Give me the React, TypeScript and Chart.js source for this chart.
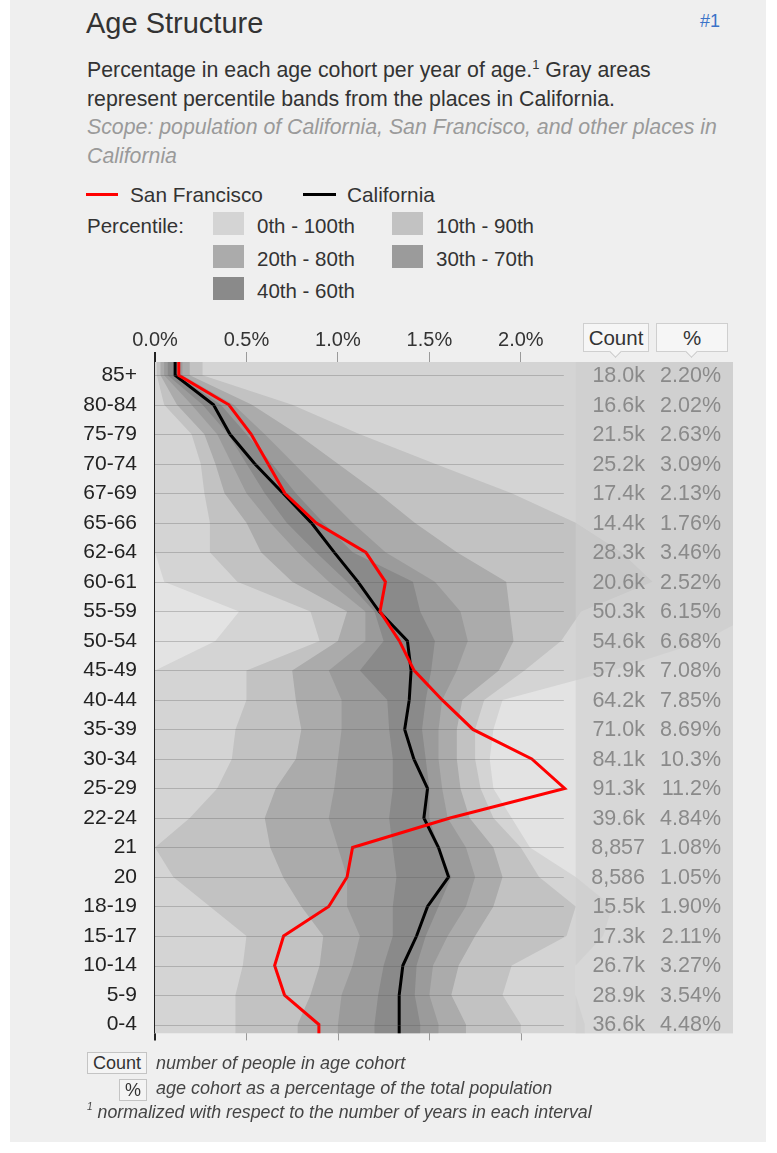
import React, { useEffect, useRef } from 'react';
import { Chart, registerables } from 'chart.js';

Chart.register(...registerables);

const ageGroups = ['85+', '80-84', '75-79', '70-74', '67-69', '65-66', '62-64', '60-61', '55-59', '50-54', '45-49', '40-44', '35-39', '30-34', '25-29', '22-24', '21', '20', '18-19', '15-17', '10-14', '5-9', '0-4'];
const countLabels = ['18.0k', '16.6k', '21.5k', '25.2k', '17.4k', '14.4k', '28.3k', '20.6k', '50.3k', '54.6k', '57.9k', '64.2k', '71.0k', '84.1k', '91.3k', '39.6k', '8,857', '8,586', '15.5k', '17.3k', '26.7k', '28.9k', '36.6k'];
const pctLabels = ['2.20%', '2.02%', '2.63%', '3.09%', '2.13%', '1.76%', '3.46%', '2.52%', '6.15%', '6.68%', '7.08%', '7.85%', '8.69%', '10.3%', '11.2%', '4.84%', '1.08%', '1.05%', '1.90%', '2.11%', '3.27%', '3.54%', '4.48%'];

const sanFrancisco = [0.13, 0.404, 0.526, 0.618, 0.71, 0.88, 1.153, 1.26, 1.23, 1.336, 1.416, 1.57, 1.738, 2.06, 2.24, 1.613, 1.08, 1.05, 0.95, 0.703, 0.654, 0.708, 0.896];
const california = [0.11, 0.32, 0.41, 0.545, 0.7, 0.855, 0.98, 1.11, 1.225, 1.38, 1.4, 1.39, 1.365, 1.415, 1.49, 1.47, 1.55, 1.605, 1.49, 1.43, 1.355, 1.335, 1.335];

const p0 = [0, 0, 0, 0, 0, 0, 0, 0.05, 0.46, 0.33, 0, 0, 0, 0, 0, 0, 0, 0, 0, 0, 0, 0, 0];
const p10 = [0.01, 0.05, 0.2, 0.25, 0.27, 0.3, 0.3, 0.45, 0.85, 0.9, 0.5, 0.5, 0.44, 0.42, 0.34, 0.19, 0, 0.1, 0.3, 0.5, 0.48, 0.44, 0.44];
const p20 = [0.03, 0.12, 0.27, 0.33, 0.38, 0.5, 0.58, 0.75, 1.05, 1.0, 0.75, 0.77, 0.8, 0.77, 0.66, 0.6, 0.63, 0.7, 0.8, 0.92, 0.9, 0.85, 0.78];
const p30 = [0.05, 0.2, 0.34, 0.42, 0.5, 0.63, 0.78, 0.95, 1.15, 1.15, 0.95, 1.02, 1.02, 1.0, 0.98, 0.95, 1.0, 1.05, 1.05, 1.12, 1.08, 1.02, 1.0];
const p40 = [0.07, 0.26, 0.4, 0.5, 0.6, 0.72, 0.88, 1.05, 1.2, 1.25, 1.12, 1.27, 1.28, 1.3, 1.3, 1.28, 1.3, 1.32, 1.3, 1.3, 1.25, 1.22, 1.2];
const p60 = [0.12, 0.36, 0.5, 0.64, 0.77, 0.92, 1.08, 1.41, 1.45, 1.53, 1.51, 1.48, 1.46, 1.48, 1.5, 1.5, 1.55, 1.62, 1.55, 1.48, 1.43, 1.42, 1.45];
const p70 = [0.15, 0.43, 0.6, 0.76, 0.92, 1.08, 1.26, 1.53, 1.67, 1.71, 1.65, 1.57, 1.55, 1.55, 1.57, 1.6, 1.7, 1.75, 1.7, 1.6, 1.52, 1.5, 1.55];
const p80 = [0.19, 0.53, 0.78, 1.0, 1.22, 1.42, 1.65, 1.92, 1.94, 1.96, 1.88, 1.68, 1.65, 1.65, 1.67, 1.72, 1.85, 1.9, 1.85, 1.75, 1.66, 1.62, 1.7];
const p90 = [0.26, 0.75, 1.12, 1.53, 1.95, 2.3, 2.55, 2.72, 2.33, 2.22, 2.02, 1.8, 1.75, 1.75, 1.78, 1.85, 2.0, 2.1, 2.3, 2.25, 1.95, 1.9, 2.0];
const p100 = [3.5, 3.5, 3.5, 3.5, 3.5, 3.5, 3.5, 3.5, 3.3, 3.0, 2.5, 1.9, 1.85, 1.83, 1.85, 1.95, 2.05, 2.3, 2.5, 2.45, 2.3, 2.3, 2.35];

const xTicks = [0, 0.5, 1.0, 1.5, 2.0];
const bandLabels = ['0th - 100th', '10th - 90th', '20th - 80th', '30th - 70th', '40th - 60th'];
const bandColors = ['#d4d4d4', '#c2c2c2', '#ababab', '#9b9b9b', '#8a8a8a'];

const FONT = '"Liberation Sans", Arial, sans-serif';
const X_MAX = 3.16;
const Y_MIN = -0.45;
const Y_MAX = 22.3;
const TABLE_LEFT = 2.3;
const GRID_RIGHT = 2.235;

function ext(arr: number[]) {
  const pts = arr.map((v, i) => ({ x: v, y: i }));
  return [{ x: arr[0], y: Y_MIN }, ...pts, { x: arr[arr.length - 1], y: Y_MAX }];
}

export default function App() {
  const ref = useRef<HTMLCanvasElement>(null);

  useEffect(() => {
    const canvas = ref.current;
    if (!canvas) return;
    const bands = [
      { lo: p0, hi: p100 },
      { lo: p10, hi: p90 },
      { lo: p20, hi: p80 },
      { lo: p30, hi: p70 },
      { lo: p40, hi: p60 },
    ];
    const datasets: any[] = [
      { label: 'San Francisco', data: ext(sanFrancisco), borderColor: '#ff0000', borderWidth: 3, pointRadius: 0, fill: false, order: 0, tension: 0 },
      { label: 'California', data: ext(california), borderColor: '#000000', borderWidth: 3, pointRadius: 0, fill: false, order: 1, tension: 0 },
    ];
    bands.forEach((b, k) => {
      const loIndex = datasets.length;
      datasets.push({ label: bandLabels[k] + ' lo', data: ext(b.lo), borderColor: 'rgba(0,0,0,0)', borderWidth: 0, pointRadius: 0, fill: false, order: 6 - k, tension: 0 });
      datasets.push({ label: bandLabels[k], data: ext(b.hi), borderColor: 'rgba(0,0,0,0)', borderWidth: 0, pointRadius: 0, fill: loIndex, backgroundColor: bandColors[k], order: 6 - k, tension: 0 });
    });

    const bgPlugin = {
      id: 'bgPlugin',
      beforeDatasetsDraw(chart: any) {
        const { ctx, chartArea } = chart;
        ctx.save();
        ctx.fillStyle = '#e3e3e3';
        ctx.fillRect(chartArea.left, chartArea.top, chartArea.right - chartArea.left, chartArea.bottom - chartArea.top);
        ctx.restore();
      },
      afterDatasetsDraw(chart: any) {
        const { ctx, chartArea, scales } = chart;
        const xs = scales.x;
        const ys = scales.y;
        ctx.save();
        const tl = xs.getPixelForValue(TABLE_LEFT);
        ctx.fillStyle = 'rgba(205,205,205,0.57)';
        ctx.fillRect(tl, chartArea.top, chartArea.right - tl, chartArea.bottom - chartArea.top);
        const gr = xs.getPixelForValue(GRID_RIGHT);
        ctx.strokeStyle = 'rgba(90,90,90,0.3)';
        ctx.lineWidth = 1;
        ageGroups.forEach((_, i) => {
          const y = Math.round(ys.getPixelForValue(i)) + 0.5;
          ctx.beginPath();
          ctx.moveTo(chartArea.left, y);
          ctx.lineTo(gr, y);
          ctx.stroke();
        });
        // vertical grid stubs below the plot
        ctx.strokeStyle = 'rgba(70,70,70,0.5)';
        xTicks.forEach((v) => {
          const x = Math.round(xs.getPixelForValue(v)) + 0.5;
          ctx.lineWidth = v === 0 ? 2 : 1;
          ctx.strokeStyle = v === 0 ? '#222222' : 'rgba(70,70,70,0.5)';
          ctx.beginPath();
          ctx.moveTo(v === 0 ? x - 0.5 : x, chartArea.bottom);
          ctx.lineTo(v === 0 ? x - 0.5 : x, chartArea.bottom + 7);
          ctx.stroke();
        });
        ctx.font = '21.5px ' + FONT;
        ctx.fillStyle = '#8a8a8a';
        ctx.textBaseline = 'middle';
        ctx.textAlign = 'right';
        ageGroups.forEach((_, i) => {
          const y = ys.getPixelForValue(i) + 1;
          ctx.fillText(countLabels[i], 645 - 60, y);
          ctx.fillText(pctLabels[i], 721 - 60, y);
        });
        ctx.restore();
      },
    };

    const chart = new Chart(canvas, {
      type: 'line',
      data: { datasets },
      plugins: [bgPlugin],
      options: {
        indexAxis: 'y',
        animation: false,
        responsive: false,
        devicePixelRatio: 1,
        parsing: { xAxisKey: 'x', yAxisKey: 'y' },
        layout: { padding: { left: 0, right: 7, top: 0, bottom: 12 } },
        plugins: { legend: { display: false }, tooltip: { enabled: false } },
        elements: { line: { tension: 0 } },
        scales: {
          x: {
            type: 'linear',
            position: 'top',
            min: 0,
            max: X_MAX,
            z: 1,
            afterBuildTicks: (s: any) => { s.ticks = xTicks.map((v) => ({ value: v })); },
            afterFit: (s: any) => { s.height = 62; },
            ticks: {
              callback: (v: any) => Number(v).toFixed(1) + '%',
              font: { size: 20, family: FONT },
              color: '#333333',
              padding: 0,
              maxRotation: 0,
            },
            grid: {
              color: (c: any) => (c.tick && c.tick.value === 0 ? '#222222' : 'rgba(70,70,70,0.5)'),
              lineWidth: (c: any) => (c.tick && c.tick.value === 0 ? 2 : 1),
              tickLength: 10,
            },
            border: { display: false },
          },
          y: {
            type: 'linear',
            min: Y_MIN,
            max: Y_MAX,
            reverse: true,
            afterBuildTicks: (s: any) => { s.ticks = ageGroups.map((_, i) => ({ value: i })); },
            afterFit: (s: any) => { s.width = 95; },
            ticks: {
              callback: (v: any) => ageGroups[Math.round(Number(v))],
              autoSkip: false,
              font: { size: 21, family: FONT },
              color: '#222222',
              padding: 18,
            },
            grid: { display: false, drawTicks: false },
            border: { display: false },
          },
        },
      } as any,
    });
    return () => chart.destroy();
  }, []);

  const abs = (left: number, top: number, extra: any = {}) => ({ position: 'absolute' as const, left, top, whiteSpace: 'nowrap' as const, ...extra });
  const swatchRows = [
    { x: 213, y: 212, i: 0 },
    { x: 392, y: 212, i: 1 },
    { x: 213, y: 245, i: 2 },
    { x: 392, y: 245, i: 3 },
    { x: 213, y: 277, i: 4 },
  ];

  return (
    <div style={{ position: 'relative', width: 777, height: 1153, background: '#ffffff', fontFamily: FONT, color: '#333', overflow: 'hidden' }}>
      <style>{'body{margin:0}'}</style>
      <div style={abs(10, 0, { width: 756, height: 1142, background: '#efefef' })} />
      <div style={abs(86, 9, { fontSize: 29, lineHeight: '29px', color: '#333' })}>Age Structure</div>
      <div style={abs(700, 12, { fontSize: 18, lineHeight: '18px', color: '#3b73c8' })}>#1</div>
      <div style={abs(87, 56, { fontSize: 21.3, lineHeight: '28.5px', color: '#333' })}>
        Percentage in each age cohort per year of age.<sup style={{ fontSize: 13, verticalAlign: 'top', lineHeight: '13px', position: 'relative', top: 2 }}>1</sup> Gray areas
        <br />
        represent percentile bands from the places in California.
        <br />
        <span style={{ fontStyle: 'italic', color: '#9a9a9a' }}>Scope: population of California, San Francisco, and other places in</span>
        <br />
        <span style={{ fontStyle: 'italic', color: '#9a9a9a' }}>California</span>
      </div>
      <div style={abs(86, 193, { width: 32, height: 3, background: '#ff0000' })} />
      <div style={abs(130, 185, { fontSize: 20.8, lineHeight: '20px' })}>San Francisco</div>
      <div style={abs(303, 193, { width: 33, height: 3, background: '#000' })} />
      <div style={abs(347, 185, { fontSize: 20.8, lineHeight: '20px' })}>California</div>
      <div style={abs(87, 216, { fontSize: 20.5, lineHeight: '20px' })}>Percentile:</div>
      {swatchRows.map((r) => (
        <React.Fragment key={r.i}>
          <div style={abs(r.x, r.y, { width: 31, height: 23, background: bandColors[r.i] })} />
          <div style={abs(r.x + 44, r.y + 4, { fontSize: 20.5, lineHeight: '20px' })}>{bandLabels[r.i]}</div>
        </React.Fragment>
      ))}
      <canvas ref={ref} width={680} height={764} style={abs(60, 300, { display: 'block' })} />
      <div style={abs(583, 323, { width: 64, height: 27, border: '1px solid #cfcfcf', background: '#f6f6f6', fontSize: 20.5, lineHeight: '27px', textAlign: 'center' })}>Count</div>
      <div style={abs(611, 347, { width: 8, height: 8, borderRight: '1px solid #c8c8c8', borderBottom: '1px solid #c8c8c8', background: '#f6f6f6', transform: 'rotate(45deg)' })} />
      <div style={abs(656, 323, { width: 70, height: 27, border: '1px solid #cfcfcf', background: '#f6f6f6', fontSize: 20.5, lineHeight: '27px', textAlign: 'center' })}>%</div>
      <div style={abs(687, 347, { width: 8, height: 8, borderRight: '1px solid #c8c8c8', borderBottom: '1px solid #c8c8c8', background: '#f6f6f6', transform: 'rotate(45deg)' })} />
      <div style={abs(87, 1052, { width: 58, height: 20, border: '1px solid #c4c4c4', background: '#f4f4f4', fontSize: 18, lineHeight: '20px', textAlign: 'center' })}>Count</div>
      <div style={abs(156, 1053, { fontSize: 18, lineHeight: '20px', fontStyle: 'italic', color: '#444' })}>number of people in age cohort</div>
      <div style={abs(119, 1079, { width: 26, height: 20, border: '1px solid #c4c4c4', background: '#f4f4f4', fontSize: 18, lineHeight: '20px', textAlign: 'center' })}>%</div>
      <div style={abs(156, 1078, { fontSize: 18, lineHeight: '20px', fontStyle: 'italic', color: '#444' })}>age cohort as a percentage of the total population</div>
      <div style={abs(87, 1102, { fontSize: 17.8, lineHeight: '20px', fontStyle: 'italic', color: '#444' })}>
        <sup style={{ fontSize: 10, verticalAlign: 'top', lineHeight: '10px' }}>1</sup> normalized with respect to the number of years in each interval
      </div>
    </div>
  );
}
